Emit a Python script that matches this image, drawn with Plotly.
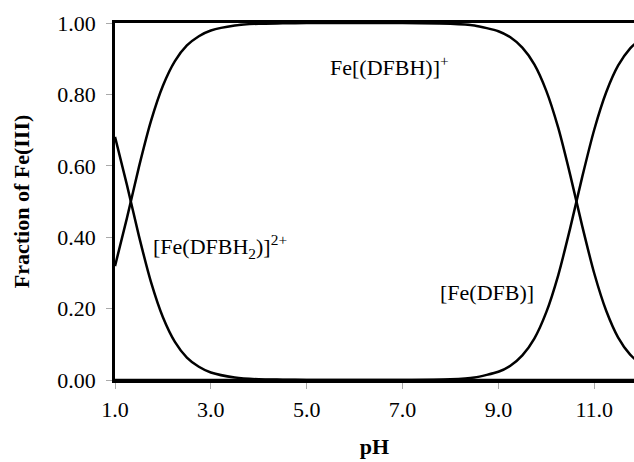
import plotly.graph_objects as go

ph = [1.0, 1.25, 1.5, 1.75, 2.0, 2.25, 2.5, 2.75, 3.0, 3.5, 4.0, 4.5, 5.0, 6.0, 7.0,
      8.0, 8.5, 9.0, 9.25, 9.5, 9.75, 10.0, 10.25, 10.5, 10.75, 11.0, 11.25, 11.5, 11.75, 12.0]

fe_dfbh2 = [0.681, 0.546, 0.403, 0.275, 0.176, 0.107, 0.063, 0.037, 0.021, 0.007, 0.002, 0.001, 0.0, 0.0, 0.0,
            0.0, 0.0, 0.0, 0.0, 0.0, 0.0, 0.0, 0.0, 0.0, 0.0, 0.0, 0.0, 0.0, 0.0, 0.0]
fe_dfbh = [0.319, 0.454, 0.597, 0.725, 0.824, 0.893, 0.937, 0.963, 0.979, 0.993, 0.998, 0.999, 1.0, 1.0, 1.0,
           0.998, 0.993, 0.977, 0.960, 0.931, 0.884, 0.810, 0.706, 0.574, 0.431, 0.299, 0.194, 0.119, 0.071, 0.041]
fe_dfb = [0.0, 0.0, 0.0, 0.0, 0.0, 0.0, 0.0, 0.0, 0.0, 0.0, 0.0, 0.0, 0.0, 0.0, 0.0,
          0.002, 0.007, 0.023, 0.040, 0.069, 0.116, 0.190, 0.294, 0.426, 0.569, 0.701, 0.806, 0.881, 0.929, 0.959]

x_ticks = [1.0, 3.0, 5.0, 7.0, 9.0, 11.0]
y_ticks = [0.0, 0.2, 0.4, 0.6, 0.8, 1.0]

labels = [
    ("Fe[(DFBH)]<sup>+</sup>", 6.72, 0.88),
    ("[Fe(DFBH<sub>2</sub>)]<sup>2+</sup>", 3.2, 0.375),
    ("[Fe(DFB)]", 8.77, 0.245),
]

FONT = "Liberation Serif"

fig = go.Figure()
for name, ys in [("Fe(DFBH2)", fe_dfbh2), ("Fe(DFBH)", fe_dfbh), ("Fe(DFB)", fe_dfb)]:
    fig.add_trace(go.Scatter(x=ph, y=ys, mode="lines", name=name,
                             line=dict(color="black", width=2.5, shape="spline", smoothing=0.6),
                             showlegend=False, cliponaxis=True))

for text, x, y in labels:
    fig.add_annotation(x=x, y=y, text=text, showarrow=False,
                       font=dict(family=FONT, size=22, color="black"))

fig.update_layout(
    width=634, height=462,
    margin=dict(l=115, r=0, t=23, b=82),
    paper_bgcolor="white", plot_bgcolor="white",
    font=dict(family=FONT, size=22, color="black"),
)
fig.update_xaxes(range=[1.0, 11.83], tickvals=x_ticks, tickformat=".1f",
                 showline=True, linecolor="black", linewidth=2.5, mirror=True,
                 ticks="outside", ticklen=6, tickcolor="#aaaaaa", tickwidth=1,
                 showgrid=False, zeroline=False, ticklabelstandoff=2,
                 tickfont=dict(family=FONT, size=22),
                 title=dict(text="<b>pH</b>", font=dict(family=FONT, size=22), standoff=18))
fig.update_yaxes(range=[0.0, 1.0], tickvals=y_ticks, tickformat=".2f",
                 showline=True, linecolor="black", linewidth=2.5, mirror=False,
                 ticks="outside", ticklen=6, tickcolor="#aaaaaa", tickwidth=1,
                 showgrid=False, zeroline=False, ticklabelstandoff=6,
                 tickfont=dict(family=FONT, size=22),
                 title=dict(text="<b>Fraction of Fe(III)</b>", font=dict(family=FONT, size=22), standoff=22))

fig.write_html("out.html")
